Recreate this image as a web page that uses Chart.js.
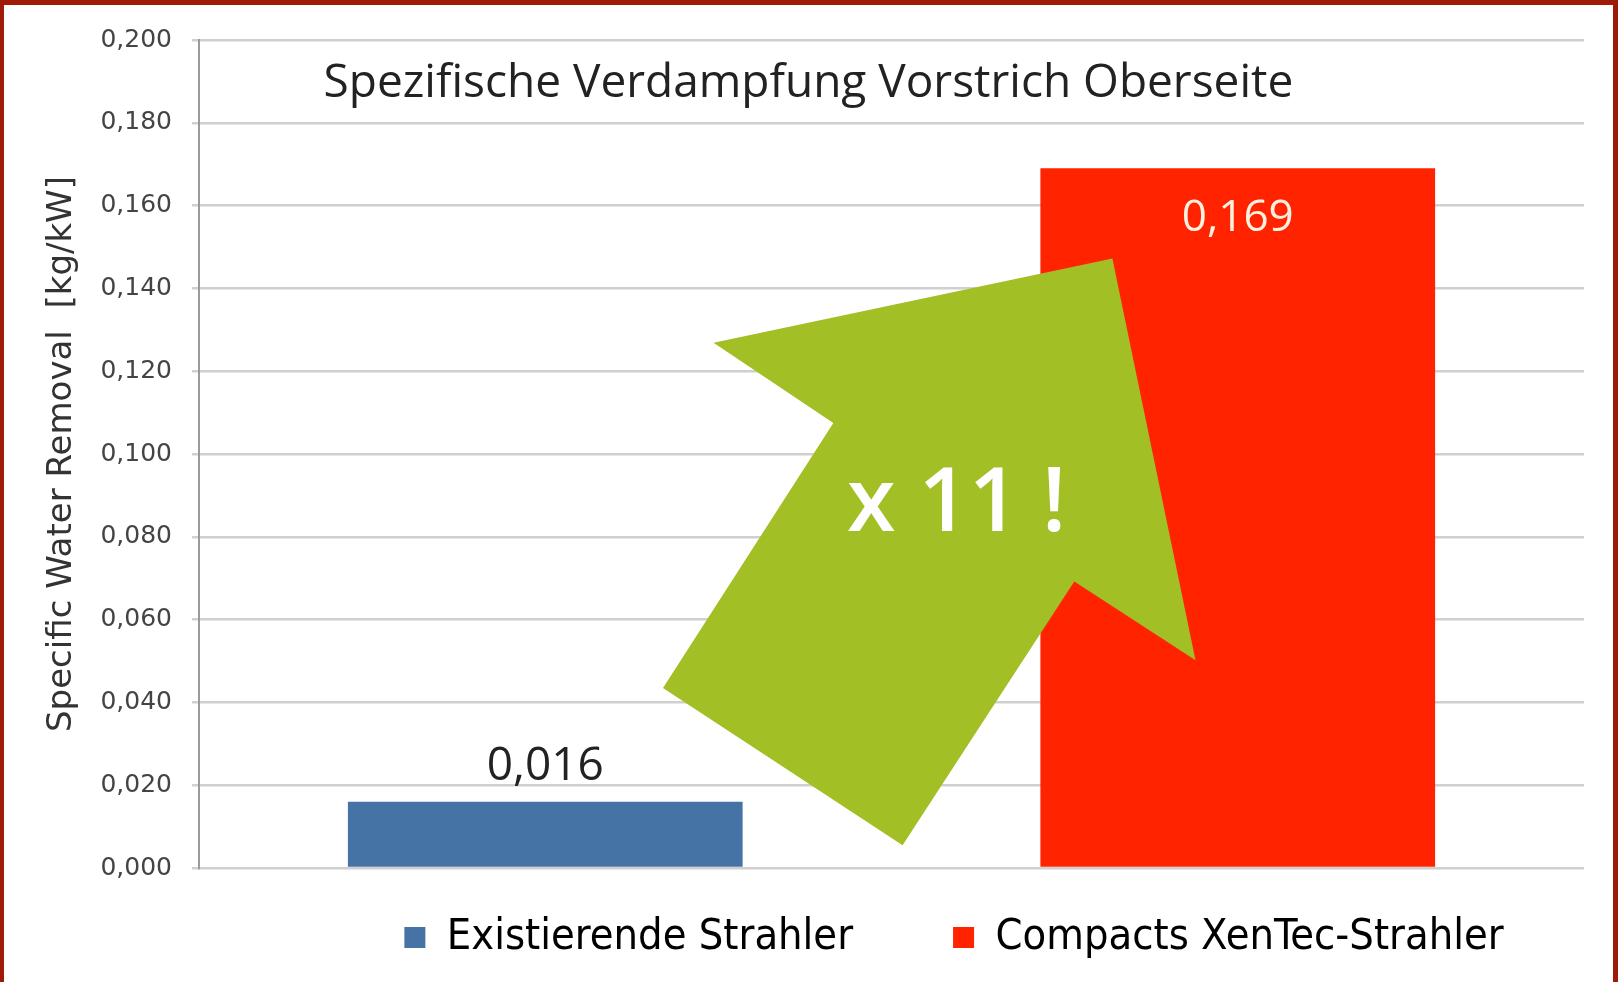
<!DOCTYPE html>
<html>
<head>
<meta charset="utf-8">
<script src="https://cdn.jsdelivr.net/npm/chart.js@4"></script>
<style>
    html, body { margin: 0; padding: 0; background: #fff; }
    #frame {
        width: 1609px;
        height: 977px;
        border-top: 5px solid #a01a08;
        border-left: 4px solid #a01a08;
        border-right: 5px solid #a01a08;
        background: #fff;
        position: relative;
    }
</style>
</head>
<body>
<div id="frame"><canvas id="verdampfungChart" width="1609" height="977"></canvas></div>
<script>
// Daten
const categories = ['Existierende Strahler', 'Compacts XenTec-Strahler'];
const values = [0.016, 0.169];
const barColors = ['#4673a6', '#ff2300'];
const yTicks = [0, 0.02, 0.04, 0.06, 0.08, 0.1, 0.12, 0.14, 0.16, 0.18, 0.2];

const chartTitle = 'Spezifische Verdampfung Vorstrich Oberseite';
const yTitle = 'Specific Water Removal  [kg/kW]';
const arrowText = 'x 11 !';
// Pfeil (Kategorie-Index, Wert)
const arrowX = [0.819, 0.243, 0.416, 0.170, 0.516, 0.764, 0.939];
const arrowY = [0.1472, 0.1269, 0.1075, 0.0435, 0.0055, 0.0692, 0.0502];

const fmt = v => v.toFixed(3).replace('.', ',');

// Titel, Pfeil und Werte zeichnen
const overlayPlugin = {
    id: 'overlay',
    afterDatasetsDraw(chart) {
        const ctx = chart.ctx;
        const xs = chart.scales.x;
        const ys = chart.scales.y;
        const area = chart.chartArea;

        ctx.save();
        // Titel
        ctx.fillStyle = '#222';
        ctx.font = '46px "Open Sans"';
        ctx.textAlign = 'center';
        ctx.textBaseline = 'middle';
        ctx.fillText(chartTitle, area.left + (area.right - area.left) * 0.44, ys.getPixelForValue(0.1895));

        // grüner Pfeil
        ctx.fillStyle = '#a2bf26';
        ctx.beginPath();
        arrowX.forEach((ax, i) => {
            const px = xs.getPixelForValue(ax);
            const py = ys.getPixelForValue(arrowY[i]);
            if (i === 0) ctx.moveTo(px, py); else ctx.lineTo(px, py);
        });
        ctx.closePath();
        ctx.fill();

        ctx.fillStyle = '#fff';
        ctx.font = '600 88px "Open Sans"';
        ctx.fillText(arrowText, xs.getPixelForValue(0.594), ys.getPixelForValue(0.0875));

        // Werte an den Balken
        const meta = chart.getDatasetMeta(0);
        meta.data.forEach((bar, i) => {
            if (i === 0) {
                ctx.fillStyle = '#222';
                ctx.font = '46px "Open Sans"';
                ctx.fillText(fmt(values[i]), bar.x, bar.y - 35);
            } else {
                ctx.fillStyle = '#fff0e0';
                ctx.font = '44px "Open Sans"';
                ctx.fillText(fmt(values[i]), bar.x, bar.y + 50);
            }
        });
        ctx.restore();
    }
};

// Legende verschieben
const legendShift = {
    id: 'legendShift',
    afterLayout(chart) {
        const lg = chart.legend;
        lg.left += 160;
        lg.right += 160;
        lg.top -= 52;
        lg.bottom = lg.top + 300;
    }
};

const ctx = document.getElementById('verdampfungChart');
new Chart(ctx, {
    type: 'bar',
    data: {
        labels: categories,
        datasets: [{
            data: values,
            backgroundColor: barColors,
            categoryPercentage: 1,
            barPercentage: 0.57
        }]
    },
    options: {
        responsive: false,
        animation: false,
        layout: {
            padding: { top: 26, right: 29, bottom: 34, left: 0 }
        },
        plugins: {
            legend: {
                position: 'bottom',
                maxHeight: 80,
                labels: {
                    boxWidth: 21,
                    boxHeight: 21,
                    padding: 100,
                    color: '#222',
                    font: { family: '"Liberation Sans Narrow", "DejaVu Sans Condensed", sans-serif', size: 43 },
                    generateLabels: () => categories.map((c, i) => ({
                        text: c,
                        fillStyle: barColors[i],
                        strokeStyle: barColors[i],
                        lineWidth: 0,
                        index: i
                    }))
                }
            },
            tooltip: { enabled: false }
        },
        scales: {
            x: {
                display: false
            },
            y: {
                min: 0,
                max: 0.2,
                afterFit(scale) { scale.width = 195; },
                afterBuildTicks(scale) { scale.ticks = yTicks.map(v => ({ value: v })); },
                ticks: {
                    padding: 20,
                    color: '#444',
                    font: { family: '"DejaVu Sans"', size: 25 },
                    callback: v => fmt(v)
                },
                grid: {
                    color: '#d0d0d0',
                    lineWidth: 2.5,
                    tickLength: 7
                },
                border: {
                    display: true,
                    color: '#9a9a9a',
                    width: 2
                },
                title: {
                    display: true,
                    text: yTitle,
                    color: '#333',
                    padding: { top: 38, bottom: 0 },
                    font: { family: '"DejaVu Sans"', size: 34 }
                }
            }
        }
    },
    plugins: [overlayPlugin, legendShift]
});
</script>
</body>
</html>
